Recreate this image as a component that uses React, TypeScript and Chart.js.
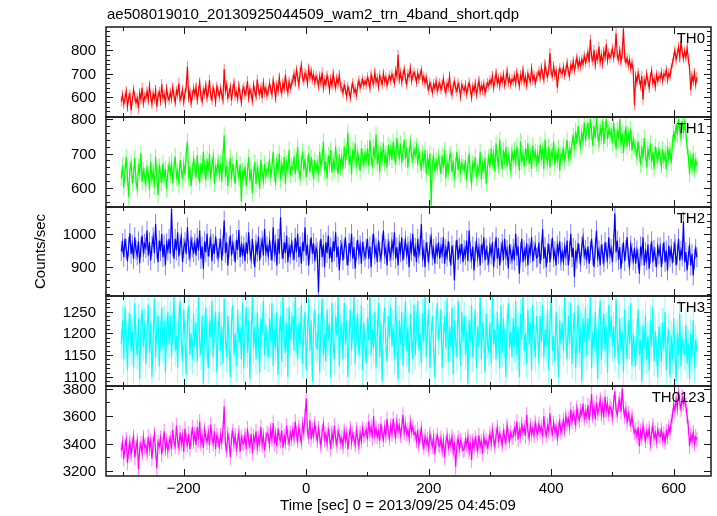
import React, { useEffect, useRef } from "react";
import { Chart, registerables } from "chart.js";

Chart.register(...registerables);

const TITLE = "ae508019010_20130925044509_wam2_trn_4band_short.qdp";
const X_TITLE = "Time [sec] 0 = 2013/09/25 04:45:09";
const Y_TITLE = "Counts/sec";

// time bins (sec)
const T_START = -302;
const T_STEP = 2;

const X_MIN = -327;
const X_MAX = 661;
const X_MAJOR = 200;
const X_MINOR = 100;
const X_TICK_LABELS = [-200, 0, 200, 400, 600];

const TH0 = [
  582, 608, 571, 594, 625, 560, 598, 612, 545, 589, 631, 603, 577, 596, 552, 618, 592, 640, 575, 601,
  596, 625, 588, 648, 604, 572, 615, 593, 630, 560, 607, 622, 585, 655, 598, 611, 574, 636, 602, 589,
  620, 594, 641, 606, 578, 627, 612, 659, 590, 603, 631, 580, 616, 645, 730, 598, 622, 575, 608, 637,
  611, 643, 589, 625, 662, 604, 582, 631, 616, 650, 597, 624, 673, 608, 590, 639, 618, 580, 645, 627,
  603, 636, 612, 589, 720, 628, 651, 598, 616, 642, 585, 633, 660, 607, 621, 594, 648, 613, 579, 630,
  642, 610, 625, 668, 598, 633, 617, 585, 651, 626, 604, 675, 632, 612, 641, 596, 660, 622, 638, 608,
  625, 658, 634, 612, 670, 641, 597, 652, 628, 683, 640, 619, 661, 636, 695, 648, 621, 666, 640, 657,
  672, 698, 664, 715, 688, 652, 705, 736, 681, 669, 702, 693, 658, 721, 684, 710, 676, 695, 662, 689,
  675, 648, 689, 662, 705, 640, 671, 655, 692, 668, 630, 677, 651, 699, 663, 642, 681, 658, 694, 646,
  640, 618, 652, 631, 605, 644, 626, 598, 638, 659, 622, 635, 610, 648, 670, 641, 658, 675, 652, 668,
  655, 684, 667, 640, 695, 672, 658, 705, 664, 680, 646, 691, 673, 655, 700, 668, 684, 651, 677, 690,
  672, 698, 681, 660, 712, 689, 780, 676, 702, 665, 694, 718, 680, 655, 697, 688, 723, 670, 692, 705,
  690, 665, 702, 678, 695, 715, 671, 688, 660, 683, 650, 632, 661, 644, 620, 655, 638, 667, 628, 649,
  660, 632, 651, 678, 640, 621, 657, 645, 688, 630, 612, 648, 666, 639, 625, 659, 641, 604, 652, 637,
  628, 651, 615, 640, 662, 633, 600, 645, 627, 658, 612, 639, 670, 624, 648, 631, 655, 618, 644, 660,
  650, 672, 658, 690, 641, 668, 702, 660, 679, 648, 685, 666, 695, 652, 674, 710, 663, 682, 655, 676,
  668, 690, 659, 705, 677, 648, 693, 672, 715, 664, 685, 652, 700, 681, 668, 722, 675, 690, 660, 686,
  692, 710, 683, 725, 698, 675, 740, 705, 688, 716, 787, 702, 690, 731, 695, 712, 640, 698, 722, 705,
  700, 728, 694, 715, 745, 708, 690, 735, 720, 752, 716, 740, 768, 728, 755, 732, 760, 741, 775, 748,
  765, 790, 748, 845, 772, 755, 800, 738, 780, 762, 815, 750, 778, 742, 795, 770, 825, 758, 786, 768,
  782, 805, 768, 790, 870, 775, 760, 798, 752, 785, 890, 770, 748, 765, 735, 758, 722, 745, 712, 567,
  690, 665, 702, 675, 648, 690, 590, 672, 655, 698, 668, 640, 685, 712, 660, 678, 645, 695, 670, 688,
  682, 705, 670, 698, 690, 715, 676, 700, 688, 722, 745, 770, 798, 760, 785, 812, 770, 837, 790, 765,
  795, 770, 808, 760, 720, 630, 690, 668, 702, 655, 684,
];

const TH1 = [
  628, 665, 602, 648, 690, 631, 575, 655, 672, 614, 640, 688, 620, 598, 662, 645, 700, 618, 652, 635,
  612, 658, 640, 595, 676, 625, 648, 603, 690, 634, 580, 662, 641, 615, 672, 628, 655, 598, 645, 668,
  638, 675, 615, 660, 692, 632, 648, 610, 682, 655, 625, 668, 640, 700, 735, 628, 662, 605, 650, 684,
  662, 630, 695, 648, 615, 672, 640, 705, 655, 622, 684, 650, 700, 628, 668, 690, 612, 660, 645, 678,
  640, 672, 618, 690, 753, 632, 665, 605, 652, 688, 625, 670, 640, 612, 682, 655, 630, 668, 560, 650,
  628, 662, 605, 648, 690, 620, 655, 585, 640, 675, 612, 660, 638, 598, 682, 645, 622, 670, 634, 655,
  648, 685, 630, 662, 705, 640, 618, 676, 652, 700, 625, 668, 645, 690, 612, 672, 655, 710, 638, 662,
  655, 692, 640, 678, 720, 648, 630, 670, 705, 652, 685, 632, 668, 700, 645, 690, 660, 625, 682, 650,
  672, 640, 705, 662, 690, 735, 650, 678, 628, 695, 668, 710, 645, 680, 655, 720, 672, 640, 698, 662,
  690, 655, 720, 680, 705, 760, 668, 695, 640, 712, 685, 730, 662, 700, 678, 650, 715, 690, 668, 702,
  680, 715, 665, 740, 692, 660, 720, 685, 755, 670, 702, 645, 710, 688, 730, 672, 698, 660, 725, 690,
  715, 682, 735, 700, 668, 745, 710, 690, 728, 672, 705, 740, 685, 718, 660, 700, 732, 695, 680, 712,
  695, 720, 668, 705, 680, 650, 698, 672, 710, 640, 685, 662, 700, 550, 670, 692, 648, 680, 660, 690,
  672, 640, 695, 660, 710, 628, 675, 650, 690, 700, 645, 680, 625, 665, 705, 652, 688, 640, 672, 660,
  650, 682, 622, 668, 700, 640, 615, 672, 655, 690, 630, 660, 645, 705, 625, 670, 650, 688, 612, 662,
  690, 660, 715, 675, 700, 648, 730, 685, 665, 740, 692, 655, 710, 680, 720, 662, 695, 675, 650, 705,
  680, 710, 665, 720, 690, 650, 735, 675, 700, 662, 715, 688, 730, 670, 695, 655, 725, 685, 705, 672,
  700, 670, 725, 688, 710, 655, 740, 692, 675, 720, 660, 705, 690, 735, 668, 700, 680, 715, 650, 698,
  690, 720, 675, 705, 740, 688, 712, 695, 730, 750, 712, 765, 730, 780, 742, 720, 760, 735, 790, 745,
  760, 790, 740, 800, 765, 722, 780, 745, 805, 758, 730, 775, 750, 795, 728, 768, 800, 742, 770, 752,
  765, 730, 790, 748, 712, 770, 740, 800, 725, 758, 702, 745, 778, 720, 755, 730, 772, 708, 740, 720,
  715, 690, 735, 700, 668, 720, 685, 745, 702, 660, 712, 690, 730, 675, 705, 655, 720, 695, 680, 710,
  690, 665, 712, 680, 700, 655, 720, 688, 710, 672, 730, 760, 742, 785, 755, 800, 770, 745, 795, 765,
  790, 760, 720, 690, 640, 685, 660, 700, 655, 680, 665,
];

const TH2 = [
  948, 972, 930, 985, 955, 918, 962, 1002, 940, 968, 925, 990, 952, 935, 978, 912, 960, 995, 945, 970,
  958, 1010, 935, 975, 920, 962, 990, 942, 1030, 955, 915, 980, 948, 1000, 930, 968, 905, 972, 950, 985,
  940, 1076, 962, 925, 985, 950, 1005, 932, 968, 990, 915, 958, 975, 940, 1020, 952, 930, 982, 960, 945,
  972, 935, 988, 950, 1010, 925, 962, 895, 978, 945, 1000, 932, 960, 985, 918, 970, 940, 992, 955, 928,
  958, 985, 920, 965, 1040, 942, 975, 905, 960, 995, 935, 970, 948, 915, 982, 952, 1012, 930, 965, 940,
  962, 918, 975, 940, 1005, 950, 925, 985, 938, 900, 968, 945, 992, 920, 958, 980, 935, 1015, 945, 962,
  935, 978, 950, 920, 1020, 945, 968, 905, 985, 940, 1050, 955, 925, 975, 942, 995, 915, 960, 938, 972,
  950, 922, 988, 945, 1000, 930, 962, 910, 975, 948, 1020, 935, 968, 905, 955, 990, 940, 972, 918, 958,
  945, 824, 950, 985, 930, 968, 900, 975, 942, 995, 925, 960, 915, 978, 948, 1005, 930, 962, 890, 952,
  968, 920, 955, 990, 935, 905, 972, 945, 1000, 925, 960, 895, 950, 982, 938, 965, 910, 975, 948, 930,
  955, 985, 925, 962, 900, 970, 1000, 938, 958, 915, 980, 945, 925, 968, 1010, 940, 955, 905, 972, 948,
  930, 975, 950, 1005, 925, 960, 905, 968, 945, 990, 920, 955, 980, 938, 962, 900, 972, 948, 1000, 932,
  958, 915, 985, 940, 965, 1030, 930, 952, 900, 975, 945, 920, 968, 990, 935, 955, 910, 962, 940, 975,
  925, 960, 940, 990, 910, 955, 932, 978, 945, 905, 965, 938, 860, 950, 982, 922, 958, 940, 970, 915,
  952, 935, 980, 918, 1010, 945, 925, 962, 890, 948, 975, 930, 958, 905, 968, 942, 990, 920, 955, 935,
  915, 962, 938, 975, 900, 948, 990, 925, 958, 905, 945, 970, 920, 985, 935, 952, 895, 968, 940, 922,
  955, 920, 1000, 935, 962, 880, 945, 985, 915, 950, 930, 972, 905, 958, 942, 990, 918, 948, 965, 928,
  932, 975, 910, 950, 1015, 925, 960, 900, 942, 970, 915, 955, 988, 930, 948, 905, 965, 940, 978, 920,
  945, 918, 960, 935, 980, 905, 948, 1000, 930, 958, 870, 950, 925, 972, 940, 915, 962, 988, 935, 952,
  925, 962, 910, 948, 985, 935, 900, 958, 1010, 930, 950, 905, 968, 940, 915, 975, 945, 925, 990, 938,
  955, 915, 970, 1061, 945, 980, 922, 960, 895, 940, 975, 918, 952, 990, 930, 905, 965, 942, 920, 958,
  910, 950, 925, 880, 962, 935, 990, 905, 945, 920, 968, 895, 940, 978, 915, 952, 930, 900, 960, 938,
  960, 900, 940, 975, 915, 950, 890, 965, 930, 955, 912, 945, 970, 905, 938, 985, 920, 950, 932, 1037,
  915, 945, 890, 935, 960, 905, 940, 875, 925, 955, 930,
];

const TH3 = [
  1175, 1230, 1140, 1260, 1195, 1115, 1215, 1245, 1160, 1205, 1120, 1270, 1185, 1150, 1235, 1095, 1210, 1255, 1170, 1225,
  1130, 1200, 1265, 1155, 1225, 1100, 1185, 1280, 1145, 1215, 1240, 1125, 1195, 1260, 1165, 1230, 1110, 1205, 1250, 1175,
  1240, 1145, 1210, 1285, 1160, 1195, 1120, 1235, 1275, 1180, 1135, 1255, 1190, 1105, 1225, 1265, 1150, 1200, 1140, 1245,
  1170, 1225, 1135, 1290, 1180, 1150, 1240, 1085, 1210, 1260, 1165, 1120, 1230, 1190, 1275, 1145, 1205, 1250, 1110, 1195,
  1250, 1160, 1215, 1130, 1280, 1195, 1145, 1240, 1175, 1100, 1225, 1265, 1150, 1200, 1125, 1255, 1180, 1215, 1140, 1270,
  1120, 1205, 1260, 1155, 1230, 1095, 1190, 1285, 1165, 1215, 1140, 1250, 1180, 1110, 1235, 1200, 1275, 1150, 1220, 1170,
  1145, 1235, 1180, 1270, 1125, 1210, 1165, 1250, 1105, 1200, 1240, 1135, 1285, 1190, 1155, 1225, 1100, 1260, 1185, 1215,
  1240, 1160, 1290, 1185, 1140, 1225, 1175, 1265, 1130, 1205, 1250, 1115, 1195, 1280, 1160, 1230, 1090, 1210, 1255, 1170,
  1165, 1245, 1110, 1215, 1280, 1150, 1200, 1135, 1255, 1185, 1225, 1100, 1270, 1175, 1140, 1240, 1195, 1285, 1125, 1210,
  1220, 1140, 1270, 1175, 1230, 1100, 1195, 1255, 1160, 1215, 1285, 1130, 1205, 1245, 1150, 1185, 1265, 1115, 1225, 1170,
  1130, 1235, 1185, 1290, 1150, 1210, 1165, 1250, 1120, 1200, 1270, 1145, 1225, 1090, 1215, 1260, 1175, 1135, 1240, 1190,
  1260, 1170, 1220, 1140, 1285, 1185, 1095, 1230, 1175, 1250, 1125, 1205, 1275, 1160, 1215, 1110, 1245, 1190, 1140, 1265,
  1150, 1215, 1275, 1160, 1200, 1130, 1245, 1180, 1285, 1145, 1210, 1255, 1120, 1195, 1240, 1165, 1100, 1225, 1270, 1185,
  1205, 1255, 1120, 1190, 1240, 1165, 1280, 1135, 1215, 1170, 1260, 1105, 1230, 1185, 1145, 1275, 1200, 1125, 1250, 1180,
  1240, 1150, 1205, 1085, 1230, 1180, 1265, 1145, 1200, 1255, 1120, 1215, 1170, 1290, 1140, 1225, 1190, 1110, 1245, 1175,
  1160, 1225, 1130, 1285, 1175, 1210, 1140, 1250, 1190, 1120, 1265, 1155, 1235, 1180, 1100, 1220, 1270, 1165, 1205, 1145,
  1235, 1170, 1275, 1150, 1215, 1100, 1245, 1185, 1290, 1160, 1200, 1130, 1255, 1175, 1225, 1115, 1265, 1190, 1145, 1240,
  1200, 1130, 1240, 1180, 1265, 1145, 1210, 1170, 1255, 1115, 1225, 1280, 1160, 1195, 1135, 1250, 1185, 1100, 1230, 1175,
  1225, 1160, 1285, 1195, 1140, 1240, 1175, 1270, 1130, 1210, 1250, 1120, 1190, 1265, 1155, 1215, 1090, 1235, 1180, 1260,
  1150, 1235, 1185, 1290, 1120, 1205, 1165, 1250, 1180, 1095, 1225, 1275, 1140, 1200, 1245, 1160, 1215, 1110, 1265, 1190,
  1240, 1170, 1215, 1145, 1280, 1190, 1130, 1235, 1160, 1205, 1110, 1255, 1185, 1140, 1230, 1175, 1270, 1125, 1200, 1160,
  1125, 1200, 1255, 1150, 1185, 1090, 1220, 1165, 1240, 1140, 1195, 1115, 1230, 1170, 1260, 1135, 1205, 1160, 1100, 1215,
  1190, 1135, 1225, 1160, 1250, 1115, 1180, 1210, 1100, 1195, 1140, 1235, 1165, 1090, 1200, 1150, 1245, 1125, 1185, 1170,
  1150, 1220, 1130, 1175, 1095, 1200, 1145, 1230, 1120, 1185, 1160,
];

const TH0123 = [
  3350, 3405, 3290, 3380, 3430, 3260, 3345, 3410, 3320, 3395, 3450, 3300, 3370, 3420, 3215, 3360, 3400, 3330, 3445, 3375,
  3390, 3330, 3450, 3365, 3420, 3290, 3400, 3470, 3350, 3220, 3410, 3380, 3440, 3320, 3395, 3490, 3360, 3420, 3345, 3405,
  3440, 3360, 3500, 3410, 3380, 3530, 3420, 3370, 3480, 3400, 3455, 3340, 3510, 3425, 3390, 3470, 3360, 3440, 3520, 3415,
  3470, 3390, 3520, 3430, 3560, 3400, 3450, 3370, 3500, 3440, 3410, 3480, 3385, 3540, 3445, 3400, 3490, 3360, 3460, 3430,
  3380, 3460, 3410, 3500, 3670, 3400, 3350, 3470, 3420, 3300, 3440, 3490, 3395, 3455, 3360, 3420, 3480, 3340, 3445, 3410,
  3400, 3460, 3360, 3510, 3420, 3380, 3470, 3330, 3450, 3410, 3490, 3370, 3440, 3400, 3520, 3390, 3455, 3350, 3430, 3475,
  3460, 3390, 3500, 3430, 3550, 3400, 3470, 3380, 3510, 3440, 3420, 3495, 3370, 3455, 3410, 3530, 3445, 3400, 3480, 3435,
  3500, 3440, 3560, 3470, 3420, 3520, 3460, 3410, 3540, 3480, 3600, 3730, 3490, 3450, 3570, 3430, 3500, 3460, 3545, 3475,
  3420, 3510, 3450, 3380, 3490, 3540, 3430, 3470, 3400, 3500, 3455, 3360, 3480, 3420, 3530, 3440, 3390, 3490, 3460, 3410,
  3440, 3380, 3490, 3420, 3470, 3360, 3450, 3510, 3410, 3470, 3430, 3390, 3500, 3440, 3380, 3475, 3420, 3510, 3455, 3470,
  3500, 3430, 3560, 3470, 3520, 3440, 3600, 3460, 3510, 3450, 3490, 3420, 3545, 3470, 3430, 3515, 3460, 3580, 3480, 3440,
  3530, 3470, 3580, 3500, 3450, 3560, 3490, 3530, 3460, 3520, 3610, 3480, 3540, 3470, 3500, 3440, 3555, 3490, 3520, 3465,
  3480, 3420, 3500, 3390, 3460, 3510, 3410, 3370, 3450, 3400, 3430, 3360, 3470, 3410, 3380, 3445, 3320, 3420, 3460, 3395,
  3380, 3440, 3350, 3420, 3300, 3400, 3460, 3370, 3420, 3390, 3450, 3340, 3410, 3230, 3380, 3440, 3360, 3420, 3395, 3350,
  3360, 3430, 3390, 3450, 3340, 3410, 3280, 3420, 3370, 3440, 3400, 3350, 3460, 3380, 3415, 3330, 3450, 3390, 3420, 3375,
  3410, 3470, 3400, 3500, 3430, 3380, 3460, 3520, 3420, 3470, 3440, 3390, 3490, 3450, 3410, 3530, 3460, 3420, 3480, 3445,
  3450, 3510, 3470, 3560, 3430, 3500, 3460, 3540, 3480, 3520, 3455, 3610, 3490, 3440, 3530, 3470, 3510, 3460, 3550, 3495,
  3470, 3540, 3490, 3520, 3450, 3600, 3500, 3460, 3530, 3490, 3620, 3510, 3470, 3550, 3490, 3520, 3440, 3505, 3560, 3480,
  3520, 3570, 3500, 3600, 3540, 3580, 3520, 3650, 3560, 3620, 3590, 3540, 3660, 3600, 3570, 3640, 3610, 3690, 3580, 3630,
  3600, 3680, 3570, 3650, 3760, 3600, 3660, 3580, 3700, 3620, 3650, 3720, 3610, 3680, 3590, 3740, 3640, 3690, 3615, 3670,
  3650, 3590, 3700, 3780, 3640, 3610, 3690, 3720, 3630, 3800, 3660, 3600, 3650, 3560, 3620, 3580, 3540, 3600, 3520, 3480,
  3500, 3450, 3520, 3380, 3490, 3440, 3530, 3470, 3420, 3490, 3450, 3510, 3400, 3470, 3530, 3440, 3480, 3420, 3500, 3460,
  3450, 3500, 3430, 3470, 3410, 3490, 3450, 3520, 3480, 3560, 3600, 3680, 3640, 3720, 3660, 3778, 3700, 3650, 3740, 3690,
  3720, 3680, 3600, 3520, 3380, 3460, 3420, 3480, 3400, 3450, 3430,
];

// 1-sigma error of each bin, per band (counts/sec)
const ERRORS = [22, 24, 30, 34, 55];

const PANEL_NAMES = ["TH0", "TH1", "TH2", "TH3", "TH0123"];
const PANEL_DATA = [TH0, TH1, TH2, TH3, TH0123];
const Y_MINS = [516, 545, 813, 1079, 3164];
const Y_MAXS = [898, 806, 1081, 1286, 3819];
const Y_MAJORS = [100, 100, 100, 50, 200];
const Y_MINORS = [20, 20, 20, 10, 100];

const COLORS = ["#ff0000", "#00ff00", "#0000ff", "#00ffff", "#ff00ff"];
const ERR_COLORS = [
  "rgba(255,0,0,0.5)",
  "rgba(0,255,0,0.5)",
  "rgba(0,0,255,0.5)",
  "rgba(0,255,255,0.5)",
  "rgba(255,0,255,0.5)",
];

const W = 717;
const H = 516;
const PLOT_LEFT = 106;
const PLOT_RIGHT = 711;
const PANEL_TOPS = [27, 117, 207, 296, 386];
const PLOT_BOTTOM = 476;
const FONT = '15px "Liberation Sans", Arial, Helvetica, sans-serif';

function fmt(v: number) {
  return v < 0 ? "\u2212" + Math.abs(v) : String(v);
}

function makeErrorBars(i: number) {
  return {
    id: "errbars" + i,
    beforeDatasetsDraw(chart: any) {
      const { ctx, chartArea: a, scales } = chart;
      const ys = scales.y;
      const meta = chart.getDatasetMeta(0);
      const vals = chart.data.datasets[0].data;
      const err = ERRORS[i];
      ctx.save();
      ctx.beginPath();
      ctx.rect(a.left, a.top, a.right - a.left, a.bottom - a.top);
      ctx.clip();
      ctx.strokeStyle = ERR_COLORS[i];
      ctx.lineWidth = 1;
      ctx.beginPath();
      meta.data.forEach((pt: any, k: number) => {
        const v = vals[k].y;
        ctx.moveTo(pt.x, ys.getPixelForValue(v - err));
        ctx.lineTo(pt.x, ys.getPixelForValue(v + err));
      });
      ctx.stroke();
      ctx.restore();
    },
  };
}

function makeDecor(i: number) {
  return {
    id: "decor" + i,
    afterDatasetsDraw(chart: any) {
      const { ctx, chartArea: a, scales } = chart;
      const xs = scales.x;
      const ys = scales.y;
      const major = Y_MAJORS[i];
      const minor = Y_MINORS[i];
      ctx.save();
      ctx.strokeStyle = "#1a1a1a";
      ctx.fillStyle = "#000";
      ctx.lineWidth = 1;
      const seg = (x1: number, y1: number, x2: number, y2: number) => {
        ctx.beginPath();
        ctx.moveTo(x1, y1);
        ctx.lineTo(x2, y2);
        ctx.stroke();
      };
      ctx.font = FONT;
      ctx.textAlign = "right";
      ctx.textBaseline = "middle";
      for (let v = Math.ceil(ys.min / minor) * minor; v <= ys.max; v += minor) {
        const y = Math.round(ys.getPixelForValue(v)) + 0.5;
        const isMajor = Math.abs(v % major) < 1e-6;
        const len = isMajor ? 7 : 4;
        seg(a.left, y, a.left + len, y);
        seg(a.right, y, a.right - len, y);
        if (isMajor) ctx.fillText(fmt(v), a.left - 10, y + 0.5);
      }
      for (let v = Math.ceil(xs.min / X_MINOR) * X_MINOR; v <= xs.max; v += X_MINOR) {
        const x = Math.round(xs.getPixelForValue(v)) + 0.5;
        const isMajor = Math.abs(v % X_MAJOR) < 1e-6;
        const len = isMajor ? 7 : 4;
        seg(x, a.top, x, a.top + len);
        seg(x, a.bottom, x, a.bottom - len);
      }
      ctx.lineWidth = 1.5;
      ctx.strokeRect(a.left, a.top, a.right - a.left, a.bottom - a.top);
      ctx.textAlign = "right";
      ctx.textBaseline = "alphabetic";
      ctx.fillText(PANEL_NAMES[i], a.right - 6, a.top + 16);
      if (i === 0) {
        ctx.textAlign = "left";
        ctx.fillText(TITLE, a.left + 1, 19);
        ctx.save();
        ctx.translate(41, (PANEL_TOPS[0] + PLOT_BOTTOM) / 2);
        ctx.rotate(-Math.PI / 2);
        ctx.textAlign = "center";
        ctx.textBaseline = "middle";
        ctx.fillText(Y_TITLE, 0, 0);
        ctx.restore();
      }
      if (i === PANEL_NAMES.length - 1) {
        ctx.textAlign = "center";
        ctx.textBaseline = "middle";
        for (const v of X_TICK_LABELS) {
          const x = xs.getPixelForValue(v);
          ctx.fillText(fmt(v), x, a.bottom + 13);
        }
        ctx.fillText(X_TITLE, 398, 506);
      }
      ctx.restore();
    },
  };
}

export default function App() {
  const refs = useRef<(HTMLCanvasElement | null)[]>([]);

  useEffect(() => {
    const charts = PANEL_DATA.map((series, i) => {
      const canvas = refs.current[i] as HTMLCanvasElement;
      const top = PANEL_TOPS[i];
      const bottom = i < PANEL_TOPS.length - 1 ? PANEL_TOPS[i + 1] : PLOT_BOTTOM;
      const pts = series.map((v, k) => ({ x: T_START + k * T_STEP, y: v }));
      return new Chart(canvas, {
        type: "line",
        data: {
          datasets: [
            {
              data: pts,
              borderColor: COLORS[i],
              borderWidth: 1.2,
              pointRadius: 0,
              tension: 0,
              fill: false,
            },
          ],
        },
        options: {
          responsive: false,
          animation: false,
          events: [],
          layout: {
            padding: {
              left: PLOT_LEFT,
              right: W - PLOT_RIGHT,
              top: top,
              bottom: H - bottom,
            },
          },
          plugins: {
            legend: { display: false },
            tooltip: { enabled: false },
            title: { display: false },
          },
          scales: {
            x: { type: "linear", min: X_MIN, max: X_MAX, display: false },
            y: { type: "linear", min: Y_MINS[i], max: Y_MAXS[i], display: false },
          },
        },
        plugins: [makeErrorBars(i), makeDecor(i)],
      } as any);
    });
    return () => charts.forEach((c) => c.destroy());
  }, []);

  return (
    <div
      style={{
        position: "fixed",
        left: 0,
        top: 0,
        width: W,
        height: H,
        background: "#fff",
      }}
    >
      {PANEL_NAMES.map((name, i) => (
        <canvas
          key={name}
          ref={(el) => {
            refs.current[i] = el;
          }}
          width={W}
          height={H}
          style={{ position: "absolute", left: 0, top: 0, width: W, height: H }}
        />
      ))}
    </div>
  );
}
